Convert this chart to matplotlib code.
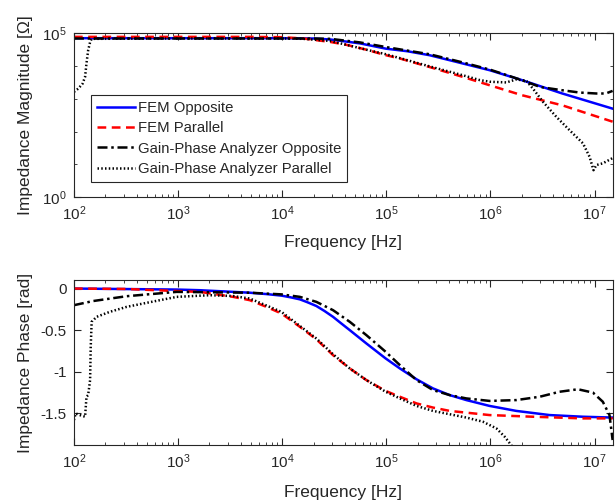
import numpy as np
import matplotlib
matplotlib.use("Agg")
import matplotlib.pyplot as plt
from matplotlib.ticker import NullFormatter, FixedLocator

plt.rcParams['font.family'] = ['Liberation Sans', 'DejaVu Sans']
plt.rcParams['axes.unicode_minus'] = False

# ---- magnitude data (frequency in Hz, |Z| in ohm) ----
f_fem_opp_mag = [100, 1e3, 1e4, 2e4, 2.9e4, 5.6e4, 9.9e4, 1.6e5, 2.6e5, 5.4e5,
                 9.9e5, 2.0e6, 4.9e6, 1.49e7]
fem_opp_mag = [70800, 70800, 70800, 69200, 64600, 49000, 33900, 28200, 21400,
               12000, 7410, 3720, 1450, 500]

f_fem_par_mag = [100, 1e3, 5e3, 1e4, 1.6e4, 2.9e4, 4.1e4, 6.4e4, 9.9e4, 1.35e5,
                 2.6e5, 5.4e5, 9.9e5, 2.0e6, 4.9e6, 1.49e7]
fem_par_mag = [77600, 77600, 77600, 75900, 69200, 54300, 44700, 31600, 21400,
               17000, 9330, 4680, 2570, 1290, 631, 200]

f_gpa_opp_mag = [100, 1e3, 1e4, 2e4, 2.9e4, 5.6e4, 9.9e4, 2.6e5, 5.4e5, 9.9e5,
                 2.0e6, 3.0e6, 4.9e6, 7.2e6, 1.04e7, 1.28e7, 1.49e7]
gpa_opp_mag = [69200, 69200, 69200, 69200, 67600, 52500, 38000, 22900, 12900,
               7760, 3720, 2290, 1820, 1550, 1450, 1450, 1740]

f_gpa_par_mag = [100, 110, 121, 128, 132, 137, 143, 148, 1e3, 1e4, 1.6e4, 2.9e4,
                 4.1e4, 6.4e4, 9.9e4, 2.6e5, 5.4e5, 7.9e5, 9.9e5, 1.42e6, 1.77e6,
                 2.21e6, 2.56e6, 3.19e6, 4.29e6, 5.75e6, 7.73e6, 8.95e6, 9.77e6,
                 1.04e7, 1.2e7, 1.49e7]
gpa_par_mag = [1620, 2040, 2880, 4680, 12000, 30200, 53700, 67600, 69200, 69200,
               67600, 58200, 44700, 31600, 22900, 9770, 5250, 3720, 3310, 3160,
               3890, 3550, 2040, 813, 282, 110, 43.7, 17.0, 6.6, 9.5, 10.7, 15.5]

# ---- phase data (rad) ----
f_fem_opp_ph = [100, 970, 1620, 4890, 7000, 9840, 1.2e4, 1.48e4, 1.75e4, 2.13e4,
                2.55e4, 3.08e4, 3.7e4, 4.46e4, 6.44e4, 9.86e4, 1.35e5, 1.95e5,
                2.81e5, 4.06e5, 5.87e5, 9.8e5, 1.77e6, 3.7e6, 7.73e6, 1.49e7]
fem_opp_ph = [0.0, -0.012, -0.02, -0.05, -0.066, -0.085, -0.105, -0.13, -0.165,
              -0.21, -0.27, -0.34, -0.42, -0.50, -0.66, -0.84, -0.96, -1.09,
              -1.20, -1.28, -1.34, -1.41, -1.47, -1.52, -1.54, -1.55]

f_fem_par_ph = [100, 316, 970, 1620, 3380, 4890, 7060, 9840, 1.48e4, 2.13e4, 3.08e4,
                4.46e4, 6.44e4, 9.86e4, 1.35e5, 1.95e5, 2.81e5, 4.06e5, 9.8e5,
                2.56e6, 7.73e6, 1.49e7]
fem_par_ph = [0.0, -0.005, -0.03, -0.04, -0.10, -0.14, -0.22, -0.30, -0.46, -0.61,
              -0.80, -0.96, -1.10, -1.23, -1.30, -1.38, -1.43, -1.47, -1.52,
              -1.54, -1.56, -1.56]

f_gpa_opp_ph = [100, 153, 321, 970, 4890, 9840, 1.48e4, 2.13e4, 3.08e4, 4.46e4,
                6.44e4, 9.86e4, 1.35e5, 1.95e5, 2.81e5, 4.06e5, 5.87e5, 9.8e5,
                1.77e6, 2.97e6, 4.61e6, 6.92e6, 9.64e6, 1.2e7, 1.39e7, 1.49e7]
gpa_opp_ph = [-0.20, -0.15, -0.092, -0.04, -0.05, -0.07, -0.10, -0.16, -0.26,
              -0.40, -0.56, -0.76, -0.92, -1.10, -1.22, -1.28, -1.32, -1.35,
              -1.34, -1.30, -1.24, -1.21, -1.25, -1.36, -1.52, -1.82]

f_gpa_par_ph = [100, 104, 114, 128, 132, 137, 143, 145, 148, 165, 221, 321, 462,
                668, 970, 2020, 3380, 4890, 9840, 1.48e4, 2.13e4, 3.08e4, 4.46e4,
                6.44e4, 9.86e4, 1.35e5, 1.95e5, 2.81e5, 4.06e5, 5.87e5, 8.47e5,
                1.14e6, 1.37e6, 1.58e6, 1.75e6]
gpa_par_ph = [-1.58, -1.50, -1.52, -1.54, -1.30, -1.28, -1.10, -0.70, -0.40, -0.34,
              -0.28, -0.22, -0.18, -0.14, -0.10, -0.08, -0.09, -0.12, -0.28, -0.45,
              -0.60, -0.79, -0.96, -1.10, -1.24, -1.32, -1.41, -1.47, -1.51, -1.55,
              -1.60, -1.68, -1.78, -1.88, -1.95]

labels = ['FEM Opposite', 'FEM Parallel', 'Gain-Phase Analyzer Opposite',
          'Gain-Phase Analyzer Parallel']

gray = '#262626'
lw = 1.8
styles = [
    dict(color='#0000ff', linestyle='-', linewidth=lw),
    dict(color='#ff0000', linestyle=(0, (3.5, 2.2)), linewidth=lw),
    dict(color='black', linestyle=(0, (4.0, 1.5, 1.0, 1.5)), linewidth=lw),
    dict(color='black', linestyle=(0, (0.6, 0.9)), linewidth=lw),
]

fig = plt.figure(figsize=(6.16, 5.04), dpi=100)
ax1 = fig.add_axes([0.120, 0.609, 0.875, 0.325])
ax2 = fig.add_axes([0.120, 0.117, 0.875, 0.327])

mag_sets = [(f_fem_opp_mag, fem_opp_mag), (f_fem_par_mag, fem_par_mag),
            (f_gpa_opp_mag, gpa_opp_mag), (f_gpa_par_mag, gpa_par_mag)]
ph_sets = [(f_fem_opp_ph, fem_opp_ph), (f_fem_par_ph, fem_par_ph),
           (f_gpa_opp_ph, gpa_opp_ph), (f_gpa_par_ph, gpa_par_ph)]

for (f, m), st, lab in zip(mag_sets, styles, labels):
    ax1.plot(f, m, label=lab, **st)
for (f, p), st in zip(ph_sets, styles):
    ax2.plot(f, p, **st)

ax1.set_xscale('log')
ax1.set_yscale('log')
ax1.set_xlim(100, 1.5e7)
ax1.set_ylim(1, 1e5)
ax1.yaxis.set_major_locator(FixedLocator([1, 1e5]))
ax1.yaxis.set_minor_locator(FixedLocator([1e1, 1e2, 1e3, 1e4]))
ax1.yaxis.set_minor_formatter(NullFormatter())

ax2.set_xscale('log')
ax2.set_xlim(100, 1.5e7)
ax2.set_ylim(-1.88, 0.1)
ax2.set_yticks([0, -0.5, -1, -1.5])
ax2.set_yticklabels(['0', '-0.5', '-1', '-1.5'])

for ax in (ax1, ax2):
    ax.tick_params(which='both', direction='in', top=True, right=True,
                   color=gray, labelcolor=gray, labelsize=11, pad=5)
    ax.tick_params(which='major', length=5)
    ax.tick_params(which='minor', length=2.5)
    for s in ax.spines.values():
        s.set_color(gray)
        s.set_linewidth(0.8)
    ax.set_xlabel('Frequency [Hz]', fontsize=12.5, color=gray)

ax1.set_ylabel('Impedance Magnitude [Ω]', fontsize=12.5, color=gray)
ax2.set_ylabel('Impedance Phase [rad]', fontsize=12.5, color=gray)
ax1.yaxis.set_label_coords(-0.076, 0.5)
ax2.yaxis.set_label_coords(-0.076, 0.5)
ax1.xaxis.set_label_coords(0.5, -0.232)
ax2.xaxis.set_label_coords(0.5, -0.242)

leg = ax1.legend(loc='upper left', bbox_to_anchor=(0.0315, 0.622), borderaxespad=0,
                 fontsize=10.7, fancybox=False, framealpha=1, edgecolor=gray,
                 handlelength=2.55, handletextpad=0.2, labelspacing=0.42,
                 borderpad=0.4)
leg.get_frame().set_linewidth(0.8)
for t in leg.get_texts():
    t.set_color(gray)

fig.savefig('out.png', dpi=100)
